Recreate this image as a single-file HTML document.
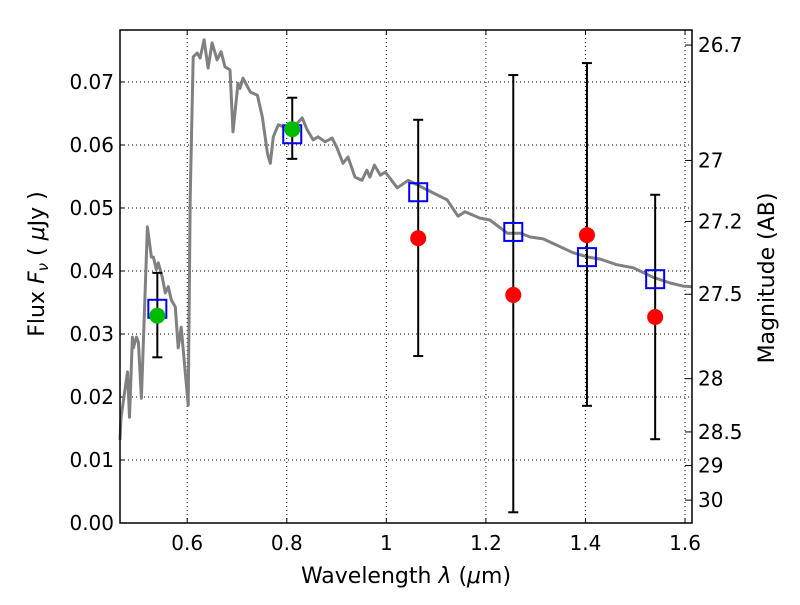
<!DOCTYPE html>
<html><head><meta charset="utf-8"><style>
body{margin:0;background:#fff}
svg text{font-family:"DejaVu Sans","Liberation Sans",sans-serif;fill:#000}
</style></head><body>
<svg id="c" width="800" height="600" xmlns="http://www.w3.org/2000/svg"></svg>
<script>
const specWl=[0.465,0.467,0.480,0.484,0.490,0.492,0.498,0.502,0.508,0.520,0.528,0.532,0.538,0.542,0.550,0.556,0.562,0.568,0.576,0.582,0.588,0.602,0.606,0.612,0.620,0.626,0.634,0.642,0.650,0.660,0.668,0.676,0.686,0.692,0.702,0.706,0.712,0.727,0.741,0.751,0.761,0.767,0.773,0.783,0.793,0.803,0.831,0.841,0.853,0.863,0.877,0.891,0.901,0.913,0.923,0.937,0.951,0.961,0.967,0.976,0.988,0.998,1.022,1.044,1.094,1.122,1.144,1.158,1.188,1.208,1.243,1.269,1.289,1.315,1.375,1.405,1.429,1.463,1.496,1.536,1.570,1.596,1.614];
const specFlux=[0.0132,0.0167,0.0240,0.0168,0.0295,0.0278,0.0295,0.0287,0.0198,0.0470,0.0422,0.0422,0.0402,0.0413,0.0390,0.0365,0.0375,0.0354,0.0343,0.0278,0.0311,0.0187,0.0517,0.0740,0.0746,0.0738,0.0767,0.0722,0.0762,0.0735,0.0748,0.0724,0.0719,0.0621,0.0698,0.0690,0.0706,0.0684,0.0679,0.0644,0.0587,0.0571,0.0613,0.0632,0.0629,0.0619,0.0643,0.0624,0.0608,0.0613,0.0605,0.0611,0.0595,0.0571,0.0581,0.0549,0.0544,0.0560,0.0549,0.0568,0.0552,0.0557,0.0532,0.0544,0.0524,0.0513,0.0487,0.0494,0.0484,0.0481,0.0460,0.0460,0.0454,0.0451,0.0429,0.0422,0.0419,0.0410,0.0405,0.0390,0.0381,0.0376,0.0375];
const obsWl=[0.540,0.811,1.064,1.255,1.403,1.540];
const obsFlux=[0.0329,0.0625,0.0452,0.0362,0.0457,0.0327];
const obsLo=[0.0263,0.0578,0.0265,0.0017,0.0186,0.0133];
const obsHi=[0.0397,0.0675,0.0640,0.0711,0.0730,0.0521];
const obsColor=["#00bb00","#00bb00","#ff0000","#ff0000","#ff0000","#ff0000"];
const modelFlux=[0.0340,0.0617,0.0525,0.0462,0.0422,0.0387];
const xTicks=[0.6,0.8,1.0,1.2,1.4,1.6];
const xTickLabels=["0.6","0.8","1","1.2","1.4","1.6"];
const yTicks=[0,0.01,0.02,0.03,0.04,0.05,0.06,0.07];
const yTickLabels=["0.00","0.01","0.02","0.03","0.04","0.05","0.06","0.07"];
const magTicks=[26.7,27,27.2,27.5,28,28.5,29,30];
const magLabels=["26.7","27","27.2","27.5","28","28.5","29","30"];

const L=120,R=692,T=30,B=523,X0=0.465,X1=1.614,Y0=0,Y1=0.07825;
const sx=v=>L+(v-X0)/(X1-X0)*(R-L);
const sy=v=>B-(v-Y0)/(Y1-Y0)*(B-T);
const svg=document.getElementById('c');
const NS="http://www.w3.org/2000/svg";
function mk(tag,attrs,parent){const e=document.createElementNS(NS,tag);for(const k in attrs)e.setAttribute(k,attrs[k]);(parent||svg).appendChild(e);return e;}

const grid=mk('g',{});


xTicks.forEach((t,i)=>{
  const x=sx(t);
  mk('line',{x1:x,x2:x,y1:T,y2:B,stroke:'#000','stroke-width':1,'stroke-dasharray':'1,3'},grid);
  mk('line',{x1:x,x2:x,y1:B,y2:B-5,stroke:'#000'},grid);
  mk('line',{x1:x,x2:x,y1:T,y2:T+5,stroke:'#000'},grid);
  const tx=mk('text',{x:x,y:B+27,'font-size':20,'text-anchor':'middle'});
  tx.textContent=xTickLabels[i];
  
  
});
yTicks.forEach((t,i)=>{
  const y=sy(t);
  mk('line',{x1:L,x2:R,y1:y,y2:y,stroke:'#000','stroke-width':1,'stroke-dasharray':'1,3'},grid);
  mk('line',{x1:L,x2:L+5,y1:y,y2:y,stroke:'#000'},grid);
  const tx=mk('text',{x:L-6,y:y+7,'font-size':20,'text-anchor':'end'});
  tx.textContent=yTickLabels[i];
  
  
});
magTicks.forEach((m,i)=>{
  const f=Math.pow(10,(23.9-m)/2.5);
  const y=sy(f);
  mk('line',{x1:R-7,x2:R,y1:y,y2:y,stroke:'#000'},grid);
  const tx=mk('text',{x:R+6,y:y+7,'font-size':20});
  tx.textContent=magLabels[i];
  
  
});

const d=specWl.map((w,i)=>(i?'L':'M')+sx(w).toFixed(1)+','+sy(specFlux[i]).toFixed(1)).join('');
const sp=mk('path',{d:d,fill:'none',stroke:'#808080','stroke-width':3,'stroke-linejoin':'round'});



obsWl.forEach((w,i)=>{
  const x=sx(w);
  const eb=mk('g',{stroke:'#000','stroke-width':2});
  
  
  mk('line',{x1:x,x2:x,y1:sy(obsLo[i]),y2:sy(obsHi[i])},eb);
  mk('line',{x1:x-5,x2:x+5,y1:sy(obsLo[i]),y2:sy(obsLo[i])},eb);
  mk('line',{x1:x-5,x2:x+5,y1:sy(obsHi[i]),y2:sy(obsHi[i])},eb);
});
obsWl.forEach((w,i)=>{
  const sq=mk('rect',{x:sx(w)-9,y:sy(modelFlux[i])-9,width:18,height:18,fill:'none',stroke:'#0000ff','stroke-width':2});
  
  
});
obsWl.forEach((w,i)=>{
  const c=mk('circle',{cx:sx(w),cy:sy(obsFlux[i]),r:8,fill:obsColor[i]});
  
  
});

const fr=mk('rect',{x:L,y:T,width:R-L,height:B-T,fill:'none',stroke:'#000','stroke-width':1.5});



const xl=mk('text',{x:406,y:583,'font-size':22,'text-anchor':'middle'});
xl.innerHTML='Wavelength  <tspan font-style="italic">λ</tspan> (<tspan font-style="italic">μ</tspan>m)';


const yl=mk('text',{x:0,y:0,'font-size':22,'text-anchor':'middle',transform:'translate(44,264) rotate(-90)'});
yl.innerHTML='Flux  <tspan font-style="italic">F</tspan><tspan font-style="italic" font-size="15" dy="4">ν</tspan><tspan dy="-4">  ( </tspan><tspan font-style="italic">μ</tspan>Jy )';


const rl=mk('text',{x:0,y:0,'font-size':22,'text-anchor':'middle',transform:'translate(774,278) rotate(-90)'});
rl.textContent='Magnitude (AB)';


</script>
</body></html>
